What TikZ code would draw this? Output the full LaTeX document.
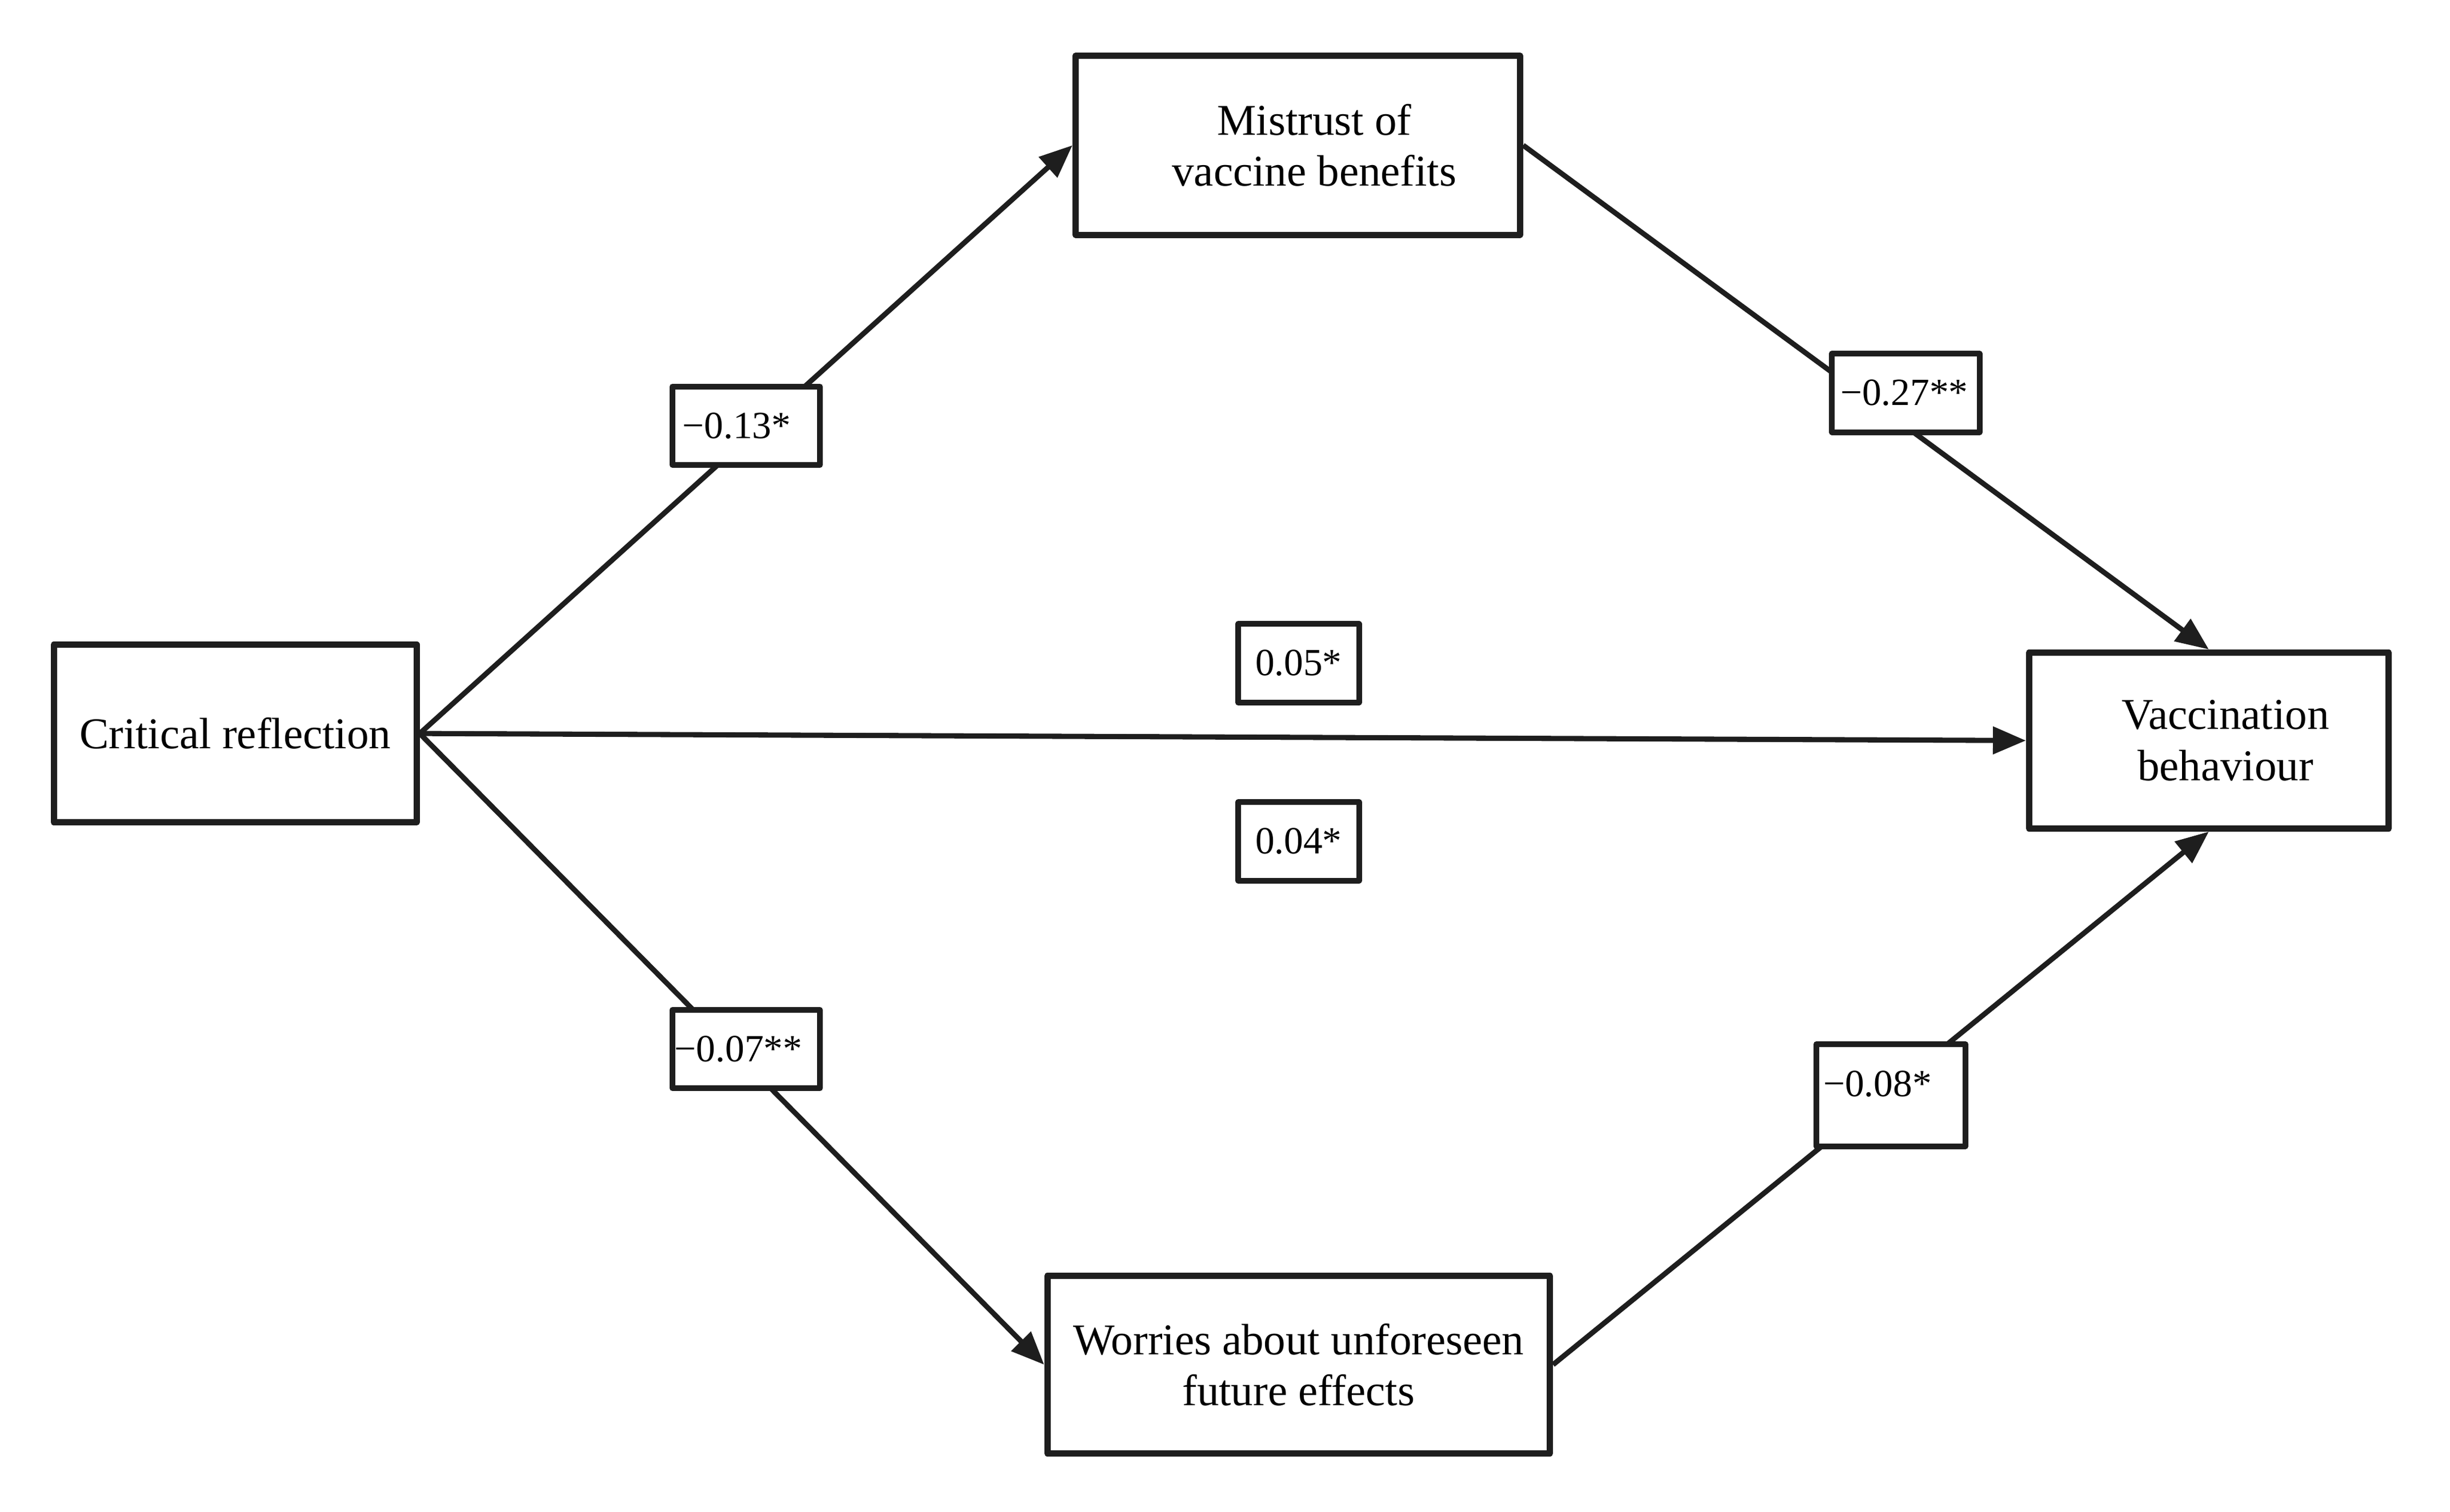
\documentclass[tikz,border=0pt]{standalone}
\usepackage{fontspec}
\setmainfont{Liberation Serif}
\usetikzlibrary{arrows.meta}
\definecolor{ink}{HTML}{1E1E1E}
\begin{document}
\begin{tikzpicture}[x=0.995pt,y=-0.995pt,
  mainbox/.style={draw=ink, line width=4pt, line join=round, fill=white, align=center,
    font=\fontsize{28}{32.5}\selectfont, inner sep=0pt},
  lab/.style={draw=ink, line width=3.6pt, line join=round, fill=white,
    font=\fontsize{24.5}{28}\selectfont, minimum height=50pt, inner ysep=0pt},
  conn/.style={draw=ink, line width=3.3pt, -{Triangle[length=21pt,width=17pt]}}]
\useasboundingbox (0,0) rectangle (1567.8,967.8);
% main boxes
\node[mainbox, minimum width=231pt, minimum height=113pt] (cr) at (150.5,469.5) {Critical reflection};
\node[mainbox, minimum width=283pt, minimum height=114pt] (mv) at (830.5,93) {\hspace*{21pt}Mistrust of\\\hspace*{21pt}vaccine benefits};
\node[mainbox, minimum width=229pt, minimum height=112pt] (vb) at (1413.5,474) {\hspace*{21pt}Vaccination\\\hspace*{21pt}behaviour};
\node[mainbox, minimum width=320pt, minimum height=113pt] (wf) at (831,873.5) {Worries about unforeseen\\future effects};
% connectors
\draw[conn] (cr.east) -- (mv.west);
\draw[conn] (mv.east) -- (vb.north);
\draw[conn] (cr.east) -- (vb.west);
\draw[conn] (cr.east) -- (wf.west);
\draw[conn] (wf.east) -- (vb.south);
% coefficient labels
\node[lab, text width=81pt, inner xsep=6.5pt, align=left] (l1) at (477.5,272.5) {−0.13*};
\node[lab, text width=83pt, inner xsep=5.5pt, align=left] (l2) at (1219.5,251.5) {−0.27**};
\node[lab, minimum width=77pt, align=center] (l3) at (831,424.5) {0.05*};
\node[lab, minimum width=77pt, align=center] (l4) at (831,538.5) {0.04*};
\node[lab, text width=91pt, inner xsep=1.5pt, align=left] (l5) at (477.5,671.5) {−0.07**};
\node[lab, text width=86pt, inner xsep=4.5pt, align=left, minimum height=65pt, text depth=15pt] (l6) at (1210,701) {−0.08*};
\end{tikzpicture}
\end{document}
